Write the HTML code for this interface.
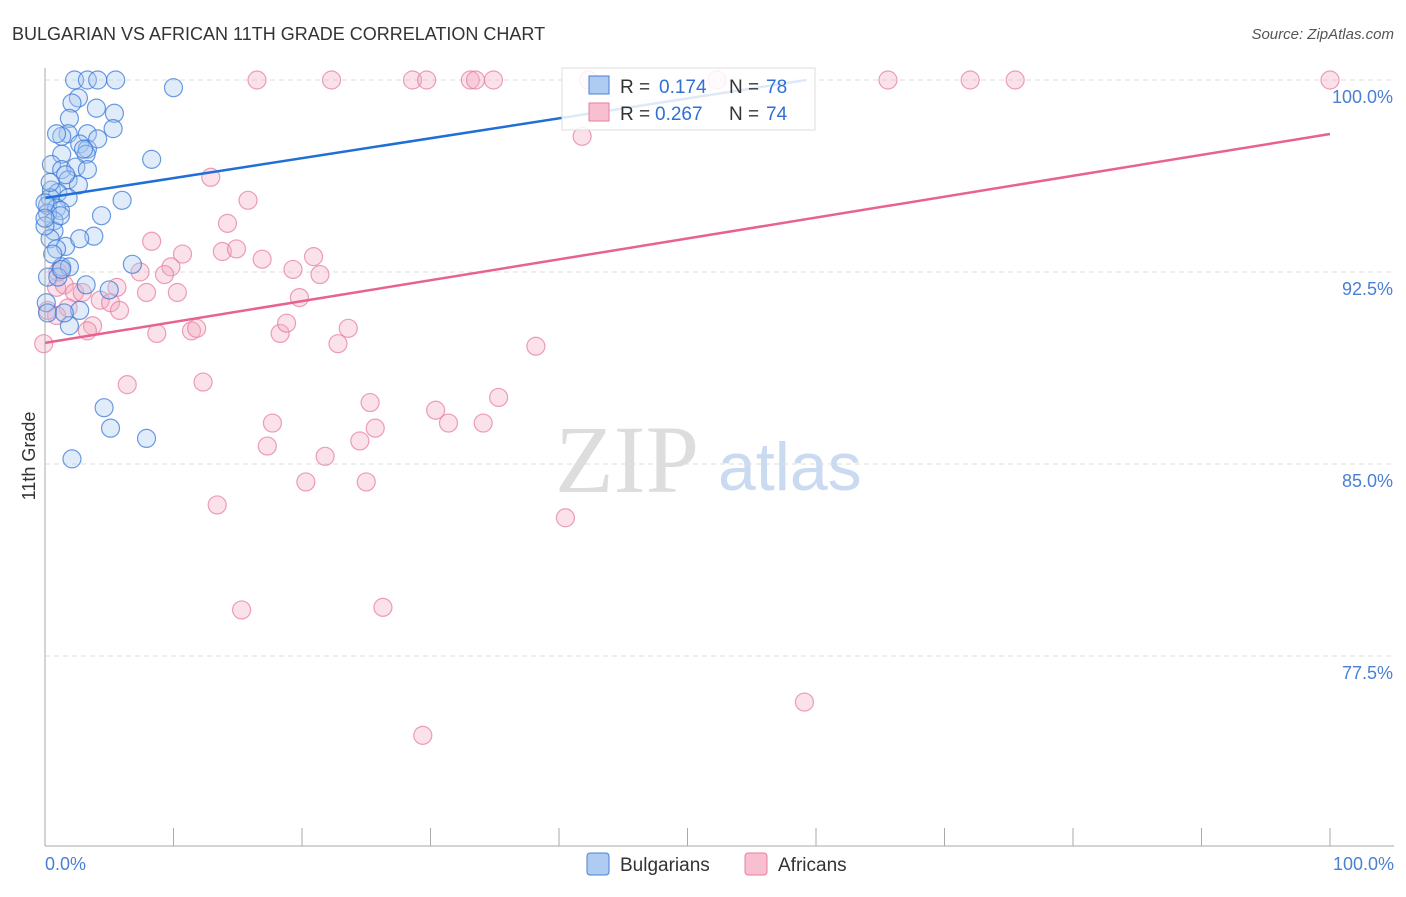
<!DOCTYPE html>
<html><head><meta charset="utf-8"><style>
body{margin:0;background:#fff;font-family:"Liberation Sans",sans-serif;}
</style></head><body>
<svg id="chart" width="1406" height="892" xmlns="http://www.w3.org/2000/svg">
<text x="12" y="40" font-size="18" fill="#333">BULGARIAN VS AFRICAN 11TH GRADE CORRELATION CHART</text>
<text x="1394" y="39" font-size="15" fill="#555" text-anchor="end" font-style="italic">Source: ZipAtlas.com</text>
<text x="35" y="456" font-size="18" fill="#333" text-anchor="middle" transform="rotate(-90 35 456)">11th Grade</text>
<text x="555" y="492" font-size="96" fill="#ddd" font-family="Liberation Serif, serif">ZIP</text>
<text x="718" y="490" font-size="68" fill="#c9daf1">atlas</text>
<g id="grid"></g><g id="pts"></g><g id="lines"></g>
<line x1="45" y1="68" x2="45" y2="846" stroke="#aaa"/>
<line x1="45" y1="846" x2="1394" y2="846" stroke="#aaa"/>
<text x="45" y="870" font-size="18" fill="#4a7fd4">0.0%</text>
<text x="1394" y="870" font-size="18" fill="#4a7fd4" text-anchor="end">100.0%</text>
<g>
<rect x="562" y="68" width="253" height="62" fill="#fff" fill-opacity="0.85" stroke="#ddd"/>
<rect x="589" y="76" width="20" height="18" fill="#aecbf2" stroke="#4a7fd4"/>
<rect x="589" y="103" width="20" height="18" fill="#f7bfd0" stroke="#e77fa0"/>
<text x="620" y="93" font-size="19" fill="#333">R =</text>
<text x="659" y="93" font-size="19" fill="#2f6fd6">0.174</text>
<text x="729" y="93" font-size="19" fill="#333">N =</text>
<text x="766" y="93" font-size="19" fill="#2f6fd6">78</text>
<text x="620" y="120" font-size="19" fill="#333">R =</text>
<text x="655" y="120" font-size="19" fill="#2f6fd6">0.267</text>
<text x="729" y="120" font-size="19" fill="#333">N =</text>
<text x="766" y="120" font-size="19" fill="#2f6fd6">74</text>
</g>
<g>
<rect x="587" y="853" width="22" height="22" rx="3" fill="#aecbf2" stroke="#4a7fd4"/>
<text x="620" y="871" font-size="19" fill="#333">Bulgarians</text>
<rect x="745" y="853" width="22" height="22" rx="3" fill="#f7bfd0" stroke="#e77fa0"/>
<text x="778" y="871" font-size="19" fill="#333">Africans</text>
</g>
</svg>
<script>
const yTicks=[100,92.5,85,77.5];
const yTickLabels=["100.0%","92.5%","85.0%","77.5%"];
const bluX=[2.3,3.3,4.1,5.5,10,2.6,2.1,4,5.4,1.9,1.8,1.3,3.3,5.3,2.7,3.3,3.2,1.3,8.3,0.5,1.3,2.4,3.3,1.8,2.6,0.5,1,0.4,1.8,6,0.2,0.9,1.2,0.2,4.4,0.7,0.7,3.8,0.4,1.6,0.9,6.8,1.3,1.9,0.2,1,3.2,5,0.1,0.2,2.7,1.9,4.6,5.1,7.9,2.1,1.3,0.6,0,1.2,1.6,3,4.1,0.9,0,0.4,0,2.7,1.5];
const bluY=[100,100,100,100,99.7,99.3,99.1,98.9,98.7,98.5,97.9,97.8,97.9,98.1,97.5,97.3,97.1,97.1,96.9,96.7,96.5,96.6,96.5,96.1,95.9,95.7,95.6,95.4,95.4,95.3,95.1,95,94.9,94.8,94.7,94.5,94.1,93.9,93.8,93.5,93.4,92.8,92.7,92.7,92.3,92.3,92.0,91.8,91.3,90.9,91,90.4,87.2,86.4,86,85.2,92.6,93.2,94.3,94.7,96.3,97.3,97.7,97.9,95.2,96,94.6,93.8,90.9];
const afrX=[16.5,22.3,28.6,29.7,33.1,33.5,34.9,42.3,52.3,65.6,72,75.5,100,41.8,12.9,15.8,14.2,8.3,10.7,13.8,14.9,16.9,20.9,19.3,7.4,9.8,9.3,21.4,5.6,7.9,10.3,19.8,0.9,1.5,2.3,2.9,4.3,5.1,5.8,1.8,0.9,3.7,3.3,8.7,11.4,11.8,18.3,18.8,23.6,22.8,38.2,1.2,12.3,6.4,25.3,30.4,17.7,31.4,34.1,35.3,25.7,17.3,24.5,21.8,20.3,25,13.4,40.5,15.3,26.3,59.1,29.4,0.2,1,-0.1];
const afrY=[100,100,100,100,100,100,100,100,100,100,100,100,100,97.8,96.2,95.3,94.4,93.7,93.2,93.3,93.4,93,93.1,92.6,92.5,92.7,92.4,92.4,91.9,91.7,91.7,91.5,91.9,92,91.7,91.7,91.4,91.3,91,91.1,90.8,90.4,90.2,90.1,90.2,90.3,90.1,90.5,90.3,89.7,89.6,92.6,88.2,88.1,87.4,87.1,86.6,86.6,86.6,87.6,86.4,85.7,85.9,85.3,84.3,84.3,83.4,82.9,79.3,79.4,75.7,74.4,91,92.5,89.7];
const trendX=[0,100];
const bluTrend=[95.39,103.17];
const afrTrend=[89.73,97.89];
const sx=v=>45+v*12.85, sy=v=>80+(100-v)*25.6;
const NS="http://www.w3.org/2000/svg";
const grid=document.getElementById('grid'),pts=document.getElementById('pts'),lines=document.getElementById('lines'),svg=document.getElementById('chart');
yTicks.forEach((t,i)=>{
 const l=document.createElementNS(NS,'line');
 l.setAttribute('x1',45);l.setAttribute('x2',1394);l.setAttribute('y1',sy(t));l.setAttribute('y2',sy(t));
 l.setAttribute('stroke','#ddd');l.setAttribute('stroke-dasharray','5,4');
 
 
 grid.appendChild(l);
 const tx=document.createElementNS(NS,'text');
 tx.setAttribute('x',1393);tx.setAttribute('y',sy(t)+23);tx.setAttribute('text-anchor','end');
 tx.setAttribute('font-size','18');tx.setAttribute('fill','#4a7fd4');tx.textContent=yTickLabels[i];
 
 
 svg.appendChild(tx);
});
for(let i=1;i<=10;i++){
 const l=document.createElementNS(NS,'line');
 const x=45+i*128.5;
 l.setAttribute('x1',x);l.setAttribute('x2',x);l.setAttribute('y1',828);l.setAttribute('y2',846);l.setAttribute('stroke','#aaa');
 
 
 svg.appendChild(l);
}
function dots(xs,ys,fill,stroke,name){
 xs.forEach((x,i)=>{
  const c=document.createElementNS(NS,'circle');
  c.setAttribute('cx',sx(x));c.setAttribute('cy',sy(ys[i]));c.setAttribute('r',9);
  c.setAttribute('fill',fill);c.setAttribute('fill-opacity','0.35');c.setAttribute('stroke',stroke);c.setAttribute('stroke-opacity','0.75');c.setAttribute('stroke-width','1.2');
  
  
  pts.appendChild(c);
 });
}
dots(afrX,afrY,'#f4a9c0','#e77fa0','african-point');
dots(bluX,bluY,'#a9c8f0','#3b7ad8','bulgarian-point');
function trend(ys,color,name){
 const l=document.createElementNS(NS,'line');
 let x2=trendX[1],y2=ys[1];
 if(y2>100){x2=trendX[0]+(100-ys[0])/(ys[1]-ys[0])*(trendX[1]-trendX[0]);y2=100;}
 l.setAttribute('x1',sx(trendX[0]));l.setAttribute('y1',sy(ys[0]));l.setAttribute('x2',sx(x2));l.setAttribute('y2',sy(y2));
 l.setAttribute('stroke',color);l.setAttribute('stroke-width','2.5');
 
 
 lines.appendChild(l);
}
trend(bluTrend,'#1f6fd6','bulgarian-trendline');
trend(afrTrend,'#e8628e','african-trendline');
</script>
</body></html>
